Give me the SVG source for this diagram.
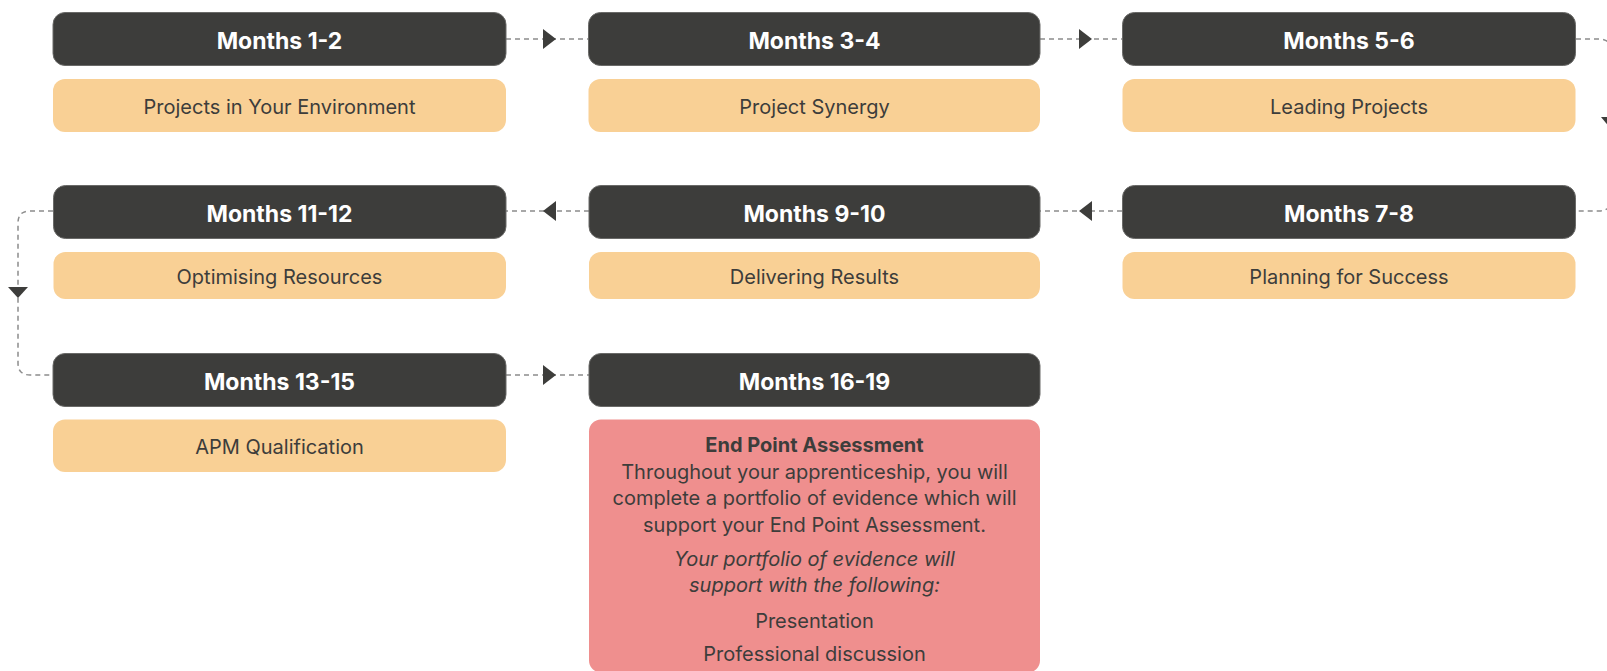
<svg xmlns="http://www.w3.org/2000/svg" width="1607" height="671" viewBox="0 0 1607 671">
<style>
.hd{fill:#3d3d3b;stroke:#6a6a68;stroke-width:1}
.tp{fill:#f9d095}
.ep{fill:#ef8f8e}
.ht{font-family:Inter,"Liberation Sans",sans-serif;font-weight:700;font-size:23px;fill:#ffffff;text-anchor:middle}
.bt{font-family:Inter,"Liberation Sans",sans-serif;font-size:20px;fill:#3d3d3b;text-anchor:middle}
.rt{font-family:Inter,"Liberation Sans",sans-serif;font-size:20px;fill:#3d3d3b;text-anchor:middle}
.b{font-weight:700}
.i{font-style:italic}
.cn{fill:none;stroke:#8c8c8c;stroke-width:1.5;stroke-dasharray:5 4}
.ah{fill:#3d3d3b}
</style>
<rect width="1607" height="671" fill="#ffffff"/>
<g id="connectors">
<path class="cn" d="M506,39 H588"/>
<path class="cn" d="M1040,39 H1122"/>
<path class="cn" d="M1576,39 H1599 Q1611,39 1611,51 V199 Q1611,211 1599,211 H1576"/>
<path class="cn" d="M1122,211 H1040"/>
<path class="cn" d="M589,211 H506"/>
<path class="cn" d="M53,211 H30 Q18,211 18,223 V363 Q18,375 30,375 H53"/>
<path class="cn" d="M506,375 H589"/>
<polygon class="ah" points="543,29 556,39 543,49"/>
<polygon class="ah" points="1079,29 1092,39 1079,49"/>
<polygon class="ah" points="1601,117 1621,117 1611,129"/>
<polygon class="ah" points="1092,201 1079,211 1092,221"/>
<polygon class="ah" points="556,201 543,211 556,221"/>
<polygon class="ah" points="8,287 28,287 18,298"/>
<polygon class="ah" points="543,365 556,375 543,385"/>
</g>
<g id="m1-2">
<rect class="hd" x="53" y="12.5" width="453" height="53" rx="12"/>
<text class="ht" x="279.5" y="48.5">Months 1-2</text>
<rect class="tp" x="53" y="79" width="453" height="53" rx="12"/>
<text class="bt" x="279.5" y="114">Projects in Your Environment</text>
</g>
<g id="m3-4">
<rect class="hd" x="588.5" y="12.5" width="451.5" height="53" rx="12"/>
<text class="ht" x="814.5" y="48.5">Months 3-4</text>
<rect class="tp" x="588.5" y="79" width="451.5" height="53" rx="12"/>
<text class="bt" x="814.5" y="114">Project Synergy</text>
</g>
<g id="m5-6">
<rect class="hd" x="1122.5" y="12.5" width="453" height="53" rx="12"/>
<text class="ht" x="1349" y="48.5">Months 5-6</text>
<rect class="tp" x="1122.5" y="79" width="453" height="53" rx="12"/>
<text class="bt" x="1349" y="114">Leading Projects</text>
</g>
<g id="m7-8">
<rect class="hd" x="1122.5" y="185.5" width="453" height="53" rx="12"/>
<text class="ht" x="1349" y="221.5">Months 7-8</text>
<rect class="tp" x="1122.5" y="252" width="453" height="47" rx="12"/>
<text class="bt" x="1349" y="284">Planning for Success</text>
</g>
<g id="m9-10">
<rect class="hd" x="589" y="185.5" width="451" height="53" rx="12"/>
<text class="ht" x="814.5" y="222">Months 9-10</text>
<rect class="tp" x="589" y="252" width="451" height="47" rx="12"/>
<text class="bt" x="814.5" y="284">Delivering Results</text>
</g>
<g id="m11-12">
<rect class="hd" x="53.5" y="185.5" width="452.5" height="53" rx="12"/>
<text class="ht" x="279.5" y="221.5">Months 11-12</text>
<rect class="tp" x="53.5" y="252" width="452.5" height="47" rx="12"/>
<text class="bt" x="279.5" y="284">Optimising Resources</text>
</g>
<g id="m13-15">
<rect class="hd" x="53" y="353.5" width="453" height="53" rx="12"/>
<text class="ht" x="279.5" y="389.5">Months 13-15</text>
<rect class="tp" x="53" y="419.5" width="453" height="52.5" rx="12"/>
<text class="bt" x="279.5" y="454">APM Qualification</text>
</g>
<g id="m16-19">
<rect class="hd" x="589" y="353.5" width="451" height="53" rx="12"/>
<text class="ht" x="814.5" y="389.5">Months 16-19</text>
<rect class="ep" x="589" y="419.5" width="451" height="253" rx="12"/>
<text class="rt b" x="814.5" y="452">End Point Assessment</text>
<text class="rt" x="814.5" y="478.5">Throughout your apprenticeship, you will</text>
<text class="rt" x="814.5" y="505">complete a portfolio of evidence which will</text>
<text class="rt" x="814.5" y="531.5">support your End Point Assessment.</text>
<text class="rt i" x="814.5" y="565.5">Your portfolio of evidence will</text>
<text class="rt i" x="814.5" y="592">support with the following:</text>
<text class="rt" x="814.5" y="627.5">Presentation</text>
<text class="rt" x="814.5" y="661">Professional discussion</text>
</g>
</svg>
